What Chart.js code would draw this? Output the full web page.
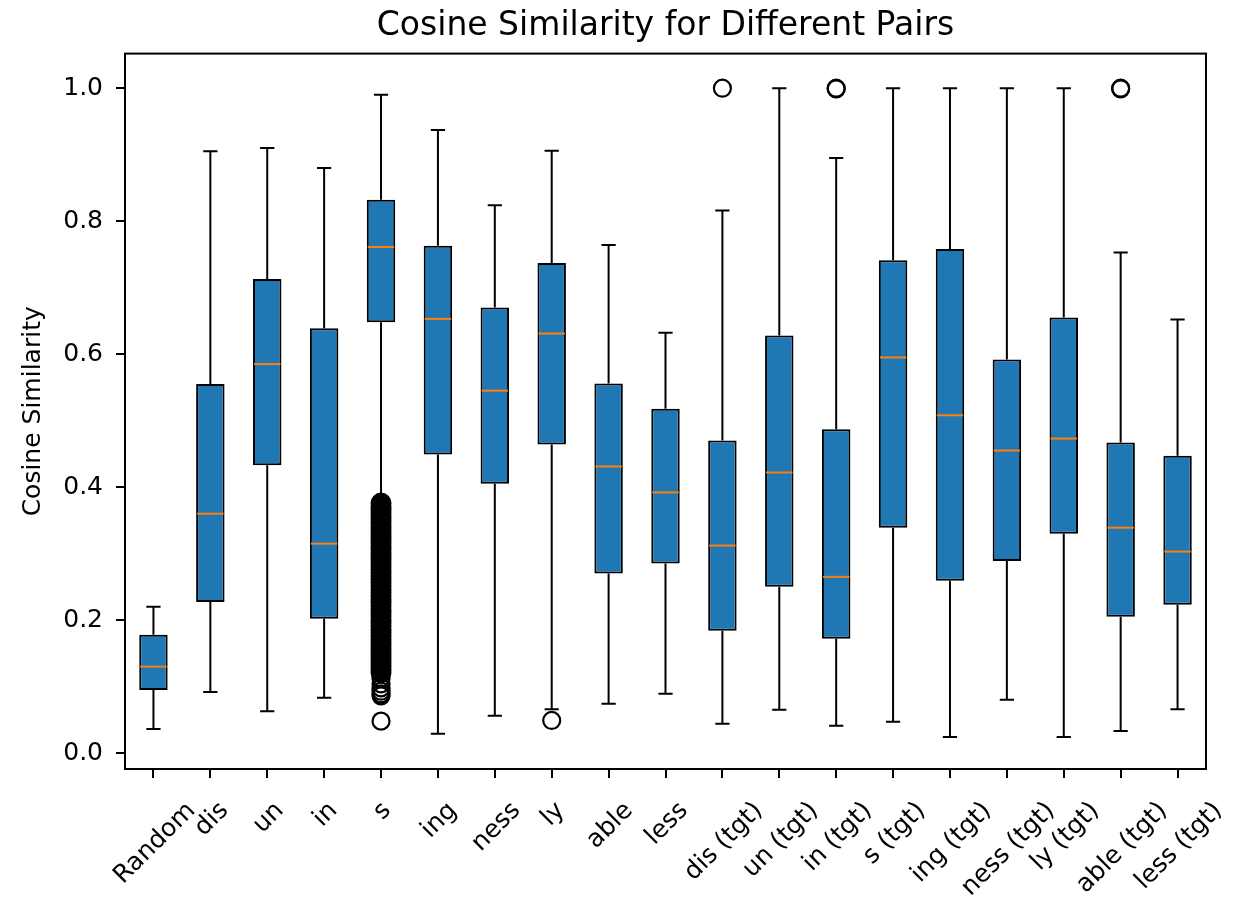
<!DOCTYPE html>
<html>
<head>
<meta charset="utf-8">
<script src="https://cdn.jsdelivr.net/npm/chart.js@4.4.1/dist/chart.umd.min.js"></script>
<style>
  html, body { margin: 0; padding: 0; background: #fff; }
  #wrap { width: 1234px; height: 899px; }
</style>
</head>
<body>
<div id="wrap"><canvas id="chart"></canvas></div>
<script>
// box plot statistics
const labels = ['Random', 'dis', 'un', 'in', 's', 'ing', 'ness', 'ly', 'able', 'less',
    'dis (tgt)', 'un (tgt)', 'in (tgt)', 's (tgt)', 'ing (tgt)', 'ness (tgt)', 'ly (tgt)', 'able (tgt)', 'less (tgt)'];
const whiskLow  = [0.036, 0.092, 0.063, 0.083, 0.382, 0.029, 0.056, 0.066, 0.074, 0.089, 0.044, 0.065, 0.041, 0.047, 0.024, 0.080, 0.024, 0.033, 0.066];
const q1        = [0.095, 0.227, 0.433, 0.202, 0.648, 0.449, 0.405, 0.464, 0.270, 0.285, 0.184, 0.250, 0.172, 0.339, 0.259, 0.289, 0.330, 0.205, 0.223];
const median    = [0.130, 0.360, 0.585, 0.315, 0.761, 0.653, 0.545, 0.631, 0.431, 0.392, 0.312, 0.422, 0.265, 0.595, 0.508, 0.455, 0.473, 0.339, 0.303];
const q3        = [0.178, 0.555, 0.713, 0.639, 0.832, 0.763, 0.670, 0.737, 0.556, 0.518, 0.470, 0.628, 0.487, 0.741, 0.758, 0.592, 0.655, 0.467, 0.447];
const whiskHigh = [0.220, 0.905, 0.910, 0.880, 0.990, 0.937, 0.824, 0.906, 0.764, 0.632, 0.816, 1.000, 0.895, 1.000, 1.000, 1.000, 1.000, 0.753, 0.652];

// outliers (open circles)
const flierCat = ['s', 's', 's', 's', 's', 's', 's', 'ly', 'dis (tgt)', 'in (tgt)', 'in (tgt)', 'able (tgt)', 'able (tgt)'];
const flierVal = [0.112, 0.104, 0.098, 0.093, 0.089, 0.086, 0.048, 0.049, 1.000, 1.000, 0.999, 1.000, 0.999];
// the solid band of overlapping outliers under 's'
const denseVal = [0.376, 0.371, 0.366, 0.361, 0.356, 0.351, 0.346, 0.341, 0.336, 0.331, 0.326, 0.321, 0.316,
    0.311, 0.306, 0.301, 0.296, 0.291, 0.286, 0.281, 0.276, 0.271, 0.266, 0.261, 0.256, 0.251, 0.246,
    0.241, 0.236, 0.231, 0.226, 0.221, 0.216, 0.211, 0.206, 0.201, 0.196, 0.191, 0.186, 0.181, 0.176,
    0.171, 0.166, 0.161, 0.156, 0.151, 0.146, 0.141, 0.136, 0.131, 0.126, 0.121];

const yTicks = [0, 0.2, 0.4, 0.6, 0.8, 1.0];

const FONT = 'DejaVu Sans';
const TICK_SIZE = 25;
const BLUE = '#1f77b4';
const ORANGE = '#ff7f0e';

const boxParts = {
    id: 'boxParts',
    beforeDatasetsDraw(chart) {
        const { ctx, scales: { x, y } } = chart;
        const capHalf = x.width / labels.length * 0.25 / 2;
        ctx.save();
        ctx.strokeStyle = '#000';
        ctx.lineWidth = 2;
        labels.forEach((_, i) => {
            const px = x.getPixelForTick(i);
            const hi = y.getPixelForValue(whiskHigh[i]);
            const lo = y.getPixelForValue(whiskLow[i]);
            ctx.beginPath();
            ctx.moveTo(px, y.getPixelForValue(q3[i])); ctx.lineTo(px, hi);
            ctx.moveTo(px, y.getPixelForValue(q1[i])); ctx.lineTo(px, lo);
            ctx.moveTo(px - capHalf, hi); ctx.lineTo(px + capHalf, hi);
            ctx.moveTo(px - capHalf, lo); ctx.lineTo(px + capHalf, lo);
            ctx.stroke();
        });
        ctx.restore();
    },
    afterDatasetsDraw(chart) {
        const { ctx, scales: { x, y } } = chart;
        const half = x.width / labels.length * 0.5 / 2 - 1;
        ctx.save();
        ctx.strokeStyle = ORANGE;
        ctx.lineWidth = 2;
        labels.forEach((_, i) => {
            const px = x.getPixelForTick(i);
            const py = y.getPixelForValue(median[i]);
            ctx.beginPath();
            ctx.moveTo(px - half, py); ctx.lineTo(px + half, py);
            ctx.stroke();
        });
        ctx.restore();
    },
    afterDraw(chart) {
        const { ctx, chartArea: a, scales: { x } } = chart;
        ctx.save();
        // axes frame
        ctx.strokeStyle = '#000';
        ctx.lineWidth = 2;
        ctx.strokeRect(a.left, a.top, a.right - a.left, a.bottom - a.top);
        // x tick labels, rotated 45deg and centred on the tick like matplotlib
        ctx.font = TICK_SIZE + 'px "' + FONT + '"';
        ctx.fillStyle = '#000';
        const h = TICK_SIZE * 1.164;
        labels.forEach((t, i) => {
            const px = x.getPixelForTick(i);
            const w = ctx.measureText(t).width;
            const side = (w + h) * Math.SQRT1_2;
            ctx.save();
            ctx.translate(px, a.bottom + 26 + side / 2);
            ctx.rotate(-Math.PI / 4);
            ctx.textAlign = 'center';
            ctx.textBaseline = 'alphabetic';
            ctx.fillText(t, 0, TICK_SIZE * 0.346);
            ctx.restore();
        });
        ctx.restore();
    }
};

new Chart(document.getElementById('chart'), {
    type: 'bar',
    data: {
        labels: labels,
        datasets: [
            {
                type: 'line',
                data: denseVal.map(v => ({ x: 's', y: v })),
                showLine: false,
                pointRadius: 9.5,
                pointBorderWidth: 2,
                pointBorderColor: '#000',
                pointBackgroundColor: '#000',
                order: 0
            },
            {
                type: 'line',
                data: flierCat.map((c, i) => ({ x: c, y: flierVal[i] })),
                showLine: false,
                pointRadius: 8.5,
                pointBorderWidth: 2.2,
                pointBorderColor: '#000',
                pointBackgroundColor: 'rgba(0,0,0,0)',
                order: 1
            },
            {
                type: 'bar',
                data: labels.map((_, i) => [q1[i], q3[i]]),
                backgroundColor: BLUE,
                borderColor: '#000',
                borderWidth: 2,
                borderSkipped: false,
                categoryPercentage: 1,
                barPercentage: 0.5,
                order: 2
            }
        ]
    },
    options: {
        responsive: true,
        maintainAspectRatio: false,
        animation: false,
        layout: { padding: { left: 0, right: 28, top: 0, bottom: 0 } },
        plugins: {
            legend: { display: false },
            tooltip: { enabled: false },
            title: {
                display: true,
                text: 'Cosine Similarity for Different Pairs',
                fullSize: false,
                color: '#000',
                font: { family: FONT, size: 33, weight: 'normal' },
                padding: { top: 7, bottom: 7 }
            }
        },
        scales: {
            x: {
                type: 'category',
                offset: true,
                border: { display: false },
                grid: { offset: false, drawOnChartArea: false, drawTicks: true, tickLength: 9, color: '#000', lineWidth: 2 },
                ticks: { display: false },
                afterFit: s => { s.height = 130; }
            },
            y: {
                type: 'linear',
                min: -0.024,
                max: 1.052,
                border: { display: false },
                grid: { drawOnChartArea: false, drawTicks: true, tickLength: 9, color: '#000', lineWidth: 2 },
                afterBuildTicks: s => { s.ticks = yTicks.map(v => ({ value: v })); },
                ticks: {
                    color: '#000',
                    padding: 13,
                    font: { family: FONT, size: TICK_SIZE },
                    callback: v => Number(v).toFixed(1)
                },
                title: {
                    display: true,
                    text: 'Cosine Similarity',
                    color: '#000',
                    font: { family: FONT, size: 25 },
                    padding: { top: 18, bottom: 0 }
                },
                afterFit: s => { s.width = 125; }
            }
        }
    },
    plugins: [boxParts]
});
</script>
</body>
</html>
